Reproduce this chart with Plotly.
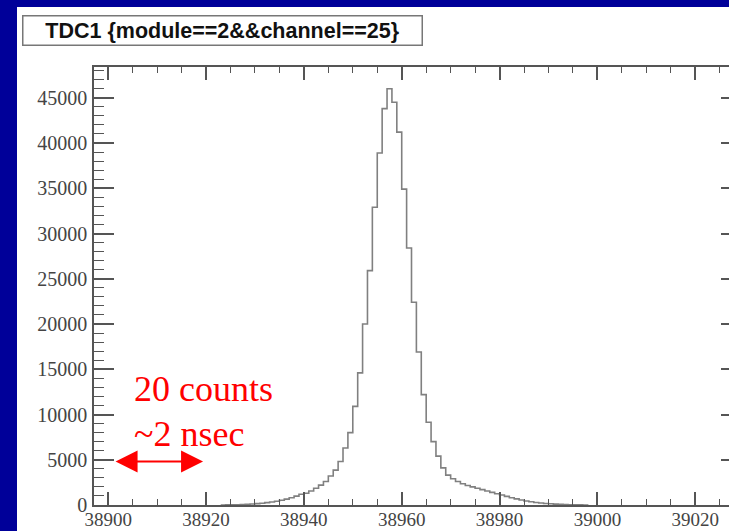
import plotly.graph_objects as go

# ---- data ----
first_bin = 38923
counts = [0, 10, 20, 35, 55, 80, 110, 150, 200, 260, 330, 420, 520, 650, 800, 980,
          1180, 1300, 1550, 1850, 2200, 2600, 3200, 3850, 4800, 6300, 8000, 10900,
          14600, 20000, 25900, 32900, 38900, 43800, 46000, 44500, 41200, 34900,
          28400, 22400, 16900, 12200, 9150, 7000, 5400, 4100, 3300, 2900, 2600,
          2350, 2150, 2000, 1850, 1700, 1550, 1400, 1250, 1100, 950, 800, 680, 560,
          450, 360, 280, 220, 170, 130, 95, 70, 50, 35, 22, 12, 6, 0]
edges = [first_bin + i for i in range(len(counts))]

x_range = [38897.1, 39026.9]
y_range = [0, 48400]
x_ticks = [38900, 38920, 38940, 38960, 38980, 39000, 39020]
y_ticks = [0, 5000, 10000, 15000, 20000, 25000, 30000, 35000, 40000, 45000]
title_text = "TDC1 {module==2&&channel==25}"
arrow_from, arrow_to, arrow_level = 38901.2, 38919.4, 4800
note_lines = ["20 counts", "~2 nsec"]
note_x = 38904.9
note_y = [12850, 7840]

BLUE = "#000099"
AXC = "#555555"
YFONT = dict(family="Liberation Serif", size=20, color="#444444")
XFONT = dict(family="Liberation Serif", size=19, color="#444444")

fig = go.Figure()
fig.add_trace(go.Scatter(x=edges, y=counts, mode="lines", line_shape="hv",
                         line=dict(color="#808080", width=1.6), hoverinfo="skip",
                         showlegend=False))
fig.add_trace(go.Scatter(x=[], y=[], yaxis="y2", showlegend=False))

L, R, T, B = 94, 0, 67, 26
W, H = 729, 531
pw, ph = W - L - R, H - T - B

fig.update_layout(
    width=W, height=H,
    margin=dict(l=L, r=R, t=T, b=B, pad=0, autoexpand=False),
    paper_bgcolor="white", plot_bgcolor="white",
    showlegend=False,
    xaxis=dict(range=x_range, tickvals=x_ticks, ticktext=[str(v) for v in x_ticks],
               ticks="inside", ticklen=13, tickwidth=1.5, tickcolor=AXC,
               showline=True, linecolor=AXC, linewidth=1.5, mirror="ticks",
               showgrid=False, zeroline=False, tickfont=XFONT,
               ticklabelstandoff=-4, automargin=False,
               minor=dict(ticks="inside", ticklen=6, dtick=5, tick0=38900,
                          tickwidth=1, tickcolor=AXC, showgrid=False)),
    yaxis=dict(range=y_range, tickvals=y_ticks, ticktext=[str(v) for v in y_ticks],
               ticks="inside", ticklen=20, tickwidth=1.5, tickcolor=AXC,
               showline=True, linecolor=AXC, linewidth=1.5,
               showgrid=False, zeroline=False, tickfont=YFONT,
               ticklabelstandoff=1, automargin=False,
               minor=dict(ticks="inside", ticklen=10, dtick=1000, tick0=0,
                          tickwidth=1, tickcolor=AXC, showgrid=False)),
    yaxis2=dict(range=y_range, overlaying="y", side="right", tickvals=y_ticks[1:],
                ticks="inside", ticklen=8, tickwidth=1.5, tickcolor=AXC,
                showticklabels=False, showline=False, showgrid=False, zeroline=False,
                automargin=False),
)

# blue frame strips (left and top)
fig.add_shape(type="rect", xref="paper", yref="paper",
              x0=-L / pw, x1=(17 - L) / pw, y0=-B / ph - 0.05, y1=(ph + T) / ph + 0.05,
              fillcolor=BLUE, line_width=0, layer="below")
fig.add_shape(type="rect", xref="paper", yref="paper",
              x0=-L / pw, x1=1.1, y0=(ph + T - 7) / ph, y1=(ph + T) / ph + 0.05,
              fillcolor=BLUE, line_width=0, layer="below")

# title box
fig.add_annotation(xref="paper", yref="paper", x=(222 - L) / pw, y=(ph + T - 30) / ph,
                   xanchor="center", yanchor="middle", showarrow=False,
                   text="<b>" + title_text + "</b>",
                   font=dict(family="Liberation Sans", size=21.5, color="#111111"),
                   width=396, height=26, borderpad=1, bordercolor="#777777",
                   borderwidth=1.5, bgcolor="white", align="center")

# arrow
fig.add_annotation(x=arrow_to, y=arrow_level, ax=arrow_from, ay=arrow_level,
                   xref="x", yref="y", axref="x", ayref="y", text="",
                   showarrow=True, arrowside="end+start", arrowhead=2,
                   arrowsize=2.2, arrowwidth=2, arrowcolor="#ff0000",
                   standoff=0, startstandoff=0)

for txt, yy in zip(note_lines, note_y):
    fig.add_annotation(x=note_x, y=yy, xref="x", yref="y", text=txt,
                       showarrow=False, xanchor="left", yanchor="middle",
                       font=dict(family="Liberation Serif", size=36, color="#ff0000"))

fig.write_html("out.html")
